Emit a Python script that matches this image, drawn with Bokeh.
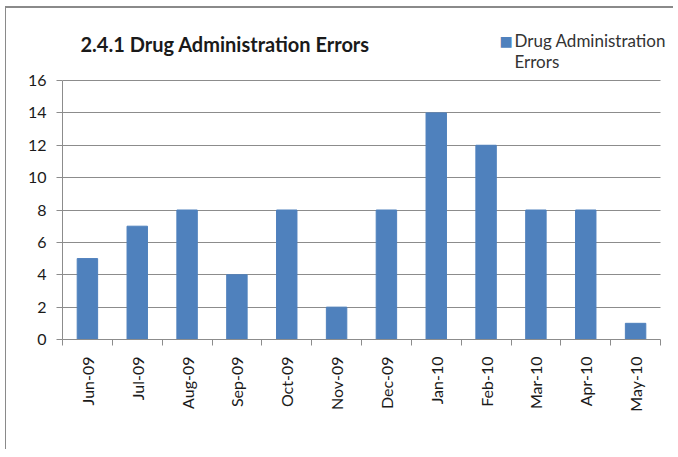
from bokeh.plotting import figure
from bokeh.models import Range1d, FixedTicker, Label, ColumnDataSource
from bokeh.embed import file_html
from bokeh.resources import INLINE

months = ["Jun-09", "Jul-09", "Aug-09", "Sep-09", "Oct-09", "Nov-09",
          "Dec-09", "Jan-10", "Feb-10", "Mar-10", "Apr-10", "May-10"]
errors = [5, 7, 8, 4, 8, 2, 8, 14, 12, 8, 8, 1]
y_ticks = [0, 2, 4, 6, 8, 10, 12, 14, 16]
title_text = "2.4.1 Drug Administration Errors"
legend_lines = ["Drug Administration", "Errors"]

W, H = 668, 443
FONT = "Lato"
TXT = "#1a1a1a"
GRID = "#8c8c8c"
BLUE = "#4F81BD"

n = len(months)
ymax_axis = y_ticks[-1]
centers = [i + 0.5 for i in range(n)]
src = ColumnDataSource(dict(x=centers, top=errors))

# frame spans from the canvas top so the title/legend can live inside it;
# the axes and grid are bounded to the real data area (0..12, 0..16)
LB, TB, RB = 56, 0, 0
FH = 331
BB = H - TB - FH
plot_h = 259.0          # pixel height of the 0..16 area
plot_w = 598.0          # pixel width of the 12 categories
y_top = ymax_axis * FH / plot_h
x_right = n * (W - LB - RB) / plot_w

p = figure(width=W, height=H, output_backend="svg", toolbar_location=None,
           x_range=Range1d(0, x_right), y_range=Range1d(0, y_top),
           min_border_left=LB, min_border_top=TB, min_border_right=RB,
           min_border_bottom=BB)
p.outline_line_color = None
p.border_fill_color = "white"
p.styles = {"border-left": "1px solid #8a8a8a", "border-top": "2px solid #8a8a8a",
            "border-right": "none", "border-bottom": "none",
            "margin-left": "5px", "margin-top": "6px"}

p.vbar(x="x", top="top", width=0.41, bottom=0, source=src,
       fill_color=BLUE, line_color=BLUE)

# x axis
p.xaxis.bounds = (0, n)
p.xaxis.ticker = FixedTicker(ticks=centers, minor_ticks=list(range(n + 1)))
p.xaxis.major_label_overrides = {c: m for c, m in zip(centers, months)}
p.xaxis.major_tick_out = 0
p.xaxis.major_tick_in = 0
p.xaxis.minor_tick_out = 6
p.xaxis.minor_tick_in = 0
p.xaxis.minor_tick_line_color = GRID
p.xaxis.axis_line_color = GRID
p.xaxis.major_label_orientation = 1.5708
p.xaxis.major_label_text_font = FONT
p.xaxis.major_label_text_font_size = "16px"
p.xaxis.major_label_text_color = TXT
p.xaxis.major_label_standoff = 11

# y axis
p.yaxis.bounds = (0, ymax_axis)
p.yaxis.ticker = FixedTicker(ticks=y_ticks)
p.yaxis.minor_tick_line_color = None
p.yaxis.major_tick_out = 6
p.yaxis.major_tick_in = 0
p.yaxis.major_tick_line_color = GRID
p.yaxis.axis_line_color = GRID
p.yaxis.major_label_text_font = FONT
p.yaxis.major_label_text_font_size = "16px"
p.yaxis.major_label_text_color = TXT
p.yaxis.major_label_standoff = 10

p.xgrid.grid_line_color = None
p.ygrid.ticker = FixedTicker(ticks=y_ticks)
p.ygrid.grid_line_color = GRID
try:
    p.ygrid[0].cross_bounds = (0, n)
except Exception:
    pass

# annotations (screen units are relative to the frame, origin bottom-left)
FB = FH + 8   # page y of frame bottom


def fx(px):
    return px - 62


def fy(py):
    return FB - py


p.add_layout(Label(x=fx(80), y=fy(43), x_units="screen", y_units="screen",
                   text=title_text, text_font=FONT,
                   text_font_style="bold", text_font_size="20px",
                   text_color=TXT, text_baseline="middle"))

p.add_layout(Label(x=fx(499), y=fy(40), x_units="screen", y_units="screen",
                   text="■", text_font="DejaVu Sans", text_font_size="14px",
                   text_color=BLUE, text_baseline="middle"))
p.add_layout(Label(x=fx(514), y=fy(40), x_units="screen", y_units="screen",
                   text=legend_lines[0], text_font=FONT,
                   text_font_size="17px", text_color="#333333",
                   text_baseline="middle"))
p.add_layout(Label(x=fx(514), y=fy(61), x_units="screen", y_units="screen",
                   text=legend_lines[1], text_font=FONT,
                   text_font_size="17px", text_color="#333333",
                   text_baseline="middle"))

open("out.html", "w").write(file_html(p, INLINE))
